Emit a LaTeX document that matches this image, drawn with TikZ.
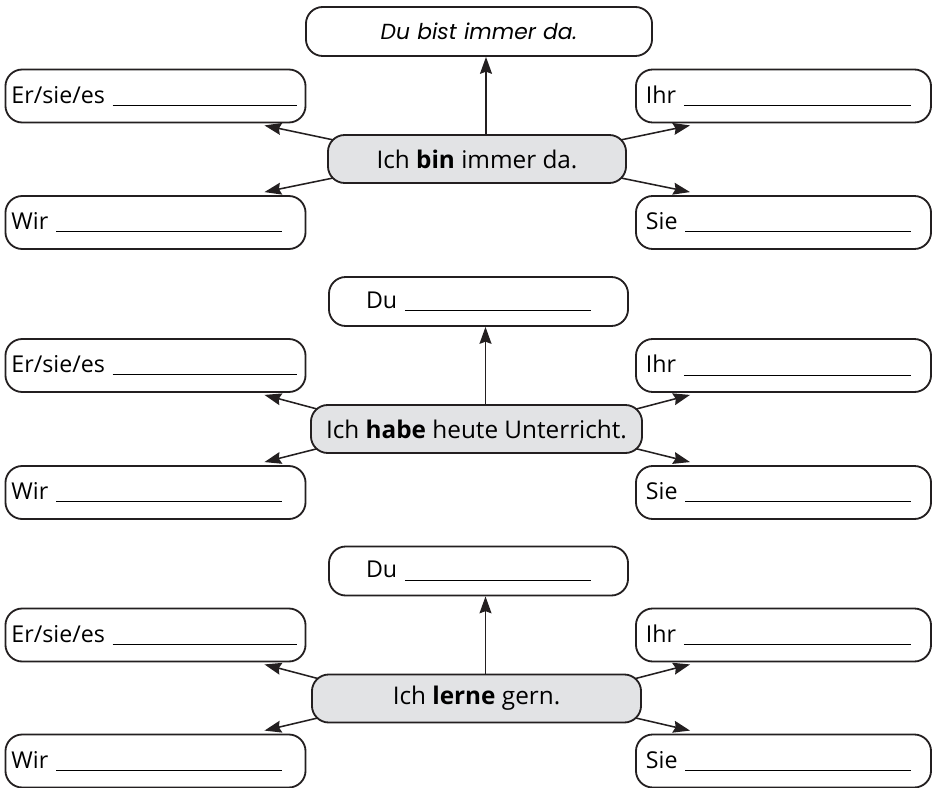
\documentclass[tikz,border=0pt]{standalone}
\usepackage{fontspec}
\setmainfont{Open Sans}
\newfontfamily\schreibschrift{Poppins}
\usepackage{xcolor}
\usepackage{tikz}
\usetikzlibrary{shapes.geometric, arrows.meta, calc}
\pgfdeclarelayer{hinten}
\pgfsetlayers{hinten,main}
\definecolor{grau}{RGB}{226,227,229}
\definecolor{rand}{RGB}{35,31,32}
\newcommand{\luecke}[1]{\rule[-2pt]{#1}{0.8pt}}
\tikzstyle{feld} = [rectangle, draw=rand, line width=1.3pt, rounded corners=0.42cm, minimum height=1.325cm, text width=7.2cm, inner xsep=0.15cm, align=left, font=\fontsize{16.5}{19}\selectfont]
\tikzstyle{rechts} = [feld, text width=6.875cm, inner xsep=0.25cm]
\tikzstyle{dufeld} = [feld, minimum height=1.225cm, text width=7.175cm, align=center]
\tikzstyle{satz} = [rectangle, draw=rand, fill=grau, line width=1.3pt, rounded corners=0.42cm, minimum height=1.2cm, align=center, font=\fontsize{17.3}{20}\selectfont]
\tikzstyle{pfeil} = [line width=1.1pt, draw=rand, -{Stealth[length=12pt, width=8.5pt, inset=1.5pt]}]

\begin{document}
\begin{tikzpicture}[x=0.025cm, y=-0.025cm]
		\useasboundingbox (0,0) rectangle (934,788);

		% erste Gruppe
	    \node (du1) [dufeld, text width=8.35cm, font=\fontsize{15.5}{18}\selectfont] at (479,31.5) {\schreibschrift\itshape Du bist immer da.};
		\node (er1) [feld] at (155.5,96) {Er/sie/es \luecke{4.6cm}};
		\node (ihr1) [rechts] at (783.5,96) {Ihr \luecke{5.675cm}};
		\node (ich1) [satz, minimum width=7.45cm] at (477,159) {Ich \textbf{bin} immer da.};
		\node (wir1) [feld] at (155.5,222.5) {Wir \luecke{5.65cm}};
		\node (sie1) [rechts] at (783.5,222.5) {Sie \luecke{5.65cm}};

		% zweite Gruppe
	    \node (du2) [dufeld] at (478.5,301.5) {Du \luecke{4.65cm}};
		\node (er2) [feld] at (155.5,365.5) {Er/sie/es \luecke{4.6cm}};
		\node (ihr2) [rechts] at (783.5,365.5) {Ihr \luecke{5.675cm}};
		\node (ich2) [satz, minimum width=8.275cm] at (476.5,429) {Ich \textbf{habe} heute Unterricht.};
		\node (wir2) [feld] at (155.5,492.5) {Wir \luecke{5.65cm}};
		\node (sie2) [rechts] at (783.5,492.5) {Sie \luecke{5.65cm}};

		% dritte Gruppe
	    \node (du3) [dufeld] at (478.5,571) {Du \luecke{4.65cm}};
		\node (er3) [feld] at (155.5,635) {Er/sie/es \luecke{4.6cm}};
		\node (ihr3) [rechts] at (783.5,635) {Ihr \luecke{5.675cm}};
		\node (ich3) [satz, minimum width=8.225cm] at (476.5,698.5) {Ich \textbf{lerne} gern.};
		\node (wir3) [feld] at (155.5,761) {Wir \luecke{5.65cm}};
		\node (sie3) [rechts] at (783.5,761) {Sie \luecke{5.65cm}};

		\begin{pgfonlayer}{hinten}
		\foreach \g in {1,2,3} {
		    \coordinate (auf\g) at ($(ich\g.north)+(9,0)$);
		    \draw [pfeil] (auf\g) -- (auf\g |- du\g.south);
		    \draw [pfeil] ($(ich\g.north west)+(26,10)$) -- ($(er\g.south east)+(-42,2)$);
		    \draw [pfeil] ($(ich\g.south west)+(26,-10)$) -- ($(wir\g.north east)+(-42,-3)$);
		    \draw [pfeil] ($(ich\g.north east)+(-26,10)$) -- ($(ihr\g.south west)+(55,2)$);
		    \draw [pfeil] ($(ich\g.south east)+(-26,-10)$) -- ($(sie\g.north west)+(55,-3)$);
		}
		\end{pgfonlayer}
\end{tikzpicture}
\end{document}
